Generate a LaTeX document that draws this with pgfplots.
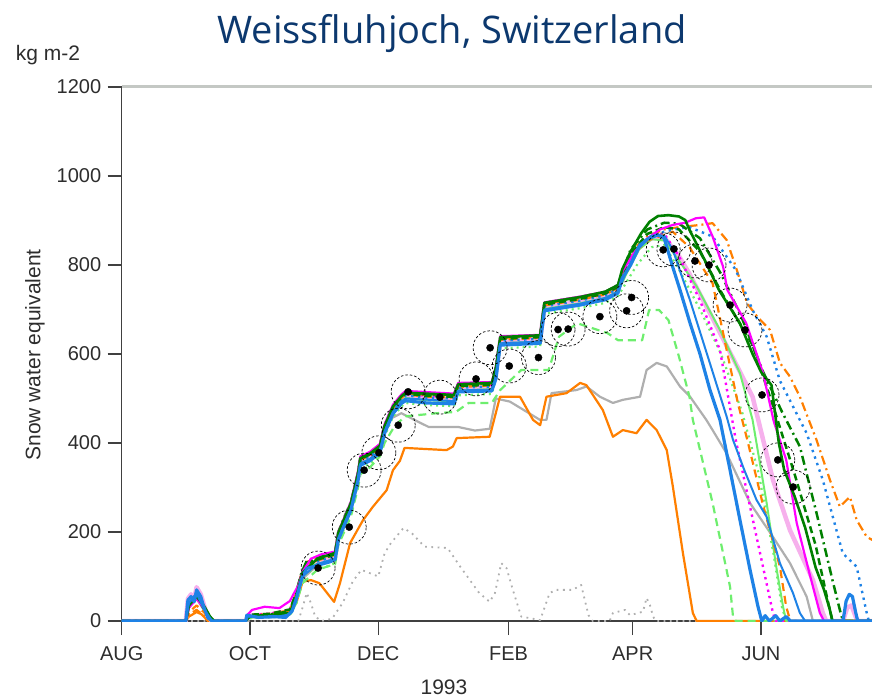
\documentclass[border=0pt]{standalone}
\usepackage{fontspec}
\setmainfont{Liberation Sans}
\newfontfamily\titlefont{Open Sans}
\usepackage{pgfplots}
\pgfplotsset{compat=1.18}
\definecolor{cblue}{RGB}{30,130,230}
\definecolor{cgreen}{RGB}{0,128,0}
\definecolor{cmag}{RGB}{255,0,255}
\definecolor{corange}{RGB}{255,127,0}
\definecolor{cgray}{RGB}{175,175,175}
\definecolor{clgreen}{RGB}{110,238,110}
\definecolor{cpink}{RGB}{246,176,236}
\definecolor{axgray}{RGB}{64,64,64}
\definecolor{topgray}{RGB}{196,200,196}
\definecolor{txtgray}{RGB}{45,45,45}
\definecolor{titleblue}{RGB}{12,56,110}
\begin{document}
\begin{tikzpicture}[x=1pt,y=1pt]
\begin{axis}[at={(0,0)}, anchor=south west,
  width=750.3pt, height=534pt, scale only axis,
  xmin=0, xmax=356.8, ymin=0, ymax=1200,
  axis lines=left, axis line style={-, draw=axgray, line width=1.5pt},
  tick align=outside, major tick length=14pt,
  tick style={draw=axgray, line width=1.5pt},
  xtick={0,61,122,184,243,304}, xticklabels={AUG,OCT,DEC,FEB,APR,JUN},
  ytick={0,200,...,1200},
  tick label style={font=\fontsize{20}{24}\selectfont, text=txtgray},
  xticklabel style={yshift=-8pt},
  yticklabel style={xshift=-3pt},
  /pgf/number format/assume math mode=true,
  /pgf/number format/1000 sep={},
  every axis plot/.append style={line join=round},
  clip=true]

% gray dotted
\addplot[cgray, line width=1.8pt, dash pattern=on 1.8pt off 4.5pt] coordinates {
(0,0)(84,0)(86,30)(88,63)(90,40)(92,10)(95,0)(100,5)(105,40)(110,90)(114,115)(122,100)(125,152)(128,175)(134,209)(138,197)(144,167)(155,164)(161,122)(170,63)(175,43)(177.5,63)(180.5,130)(183,119)(186,70)(190,10)(199,2)(203.5,63)(206.7,70)(214.5,70)(218.5,81)(221,32)(222,13)(224,0)(232,0)(233.6,18)(239.4,25)(241.7,13)(247.9,21)(249.6,52)(251.2,36)(252.7,10)(254,0)(357,0)};

% gray solid
\addplot[cgray, line width=2.2pt] coordinates {
(0,0)(30.5,0)(32,30)(35.6,50)(39,25)(43,0)(59,0)(60,8)(72,10)(80,15)(83,45)(86,95)(93,125)(101.5,138)(103,182)(109,249)(112.4,316)(113.5,350)(118,360)(122.8,378)(125,420)(128,455)(133,467)(140,450)(146,436)(160,436)(168,428)(175,432)(177.9,500)(184.6,493)(198.9,452)(202,452)(204.4,512)(216.3,519)(221,527)(227.4,504)(233.6,490)(238.3,497)(246.5,504)(249.6,564)(254.4,580)(259.2,572)(265.5,527)(270.3,504)(278,452)(281,429)(287.6,377)(298.8,265)(309.7,189)(317.8,130)(325.7,55)(328.7,0)(357,0)};

% orange solid (low)
\addplot[corange, line width=2.2pt] coordinates {
(0,0)(30.5,0)(32,10)(35.6,20)(38,15)(41,0)(59,0)(60,8)(70,15)(80,20)(83,40)(86,88)(90,92)(94,85)(101,43)(103.8,85)(108.6,175)(114.8,227)(119.5,257)(126,294)(129,339)(132.3,360)(134.5,389)(154.5,384)(157.5,392)(159.3,411)(175,414)(179.9,504)(189.4,504)(195.6,452)(199,440)(202,504)(211.5,512)(218,535)(221,530)(228.8,474)(233.6,414)(238.3,429)(244.8,422)(249.6,452)(254.4,429)(259.2,384)(262.1,302)(266.9,152)(271.6,18)(273.4,0)(357,0)};

% light green dashed
\addplot[clgreen, line width=2.2pt, dash pattern=on 8pt off 5pt] coordinates {
(0,0)(30.5,0)(32,35)(35.6,55)(39,28)(43,0)(59,0)(60,8)(72,10)(80,15)(83,40)(86,85)(93,115)(101.5,128)(103,170)(109,235)(112.4,300)(113.5,330)(118,345)(122.8,370)(125,400)(130,440)(135,460)(150,467)(159,470)(165,490)(176,490)(180,519)(190,564)(203,564)(208,639)(216.7,669)(231,647)(236,631)(247.5,631)(250.8,699)(255.5,699)(260,676)(265,594)(270,504)(271.6,452)(281,265)(289.3,77)(290.7,10)(292,0)(357,0)};

% pink thick
\addplot[cpink, line width=4.5pt] coordinates {
(0,0)(30.5,0)(31.5,50)(33,60)(34.5,50)(35.6,76)(37.6,60)(39,38)(41,10)(43,0)(59,0)(60,12)(70,14)(80,20)(83,55)(85.6,100)(88,125)(93,132)(99,140)(101.5,145)(103,190)(106,225)(109,257)(112.4,324)(113.5,358)(118,368)(122.8,386)(125,430)(129,474)(133,497)(135,505)(145,500)(158,498)(160,522)(176,525)(178,560)(180,628)(199,632)(201,705)(218,718)(230,730)(236,745)(240,790)(246,840)(252,860)(258,862)(265,820)(270,780)(281,680)(294,560)(300,504)(309.7,317)(317.8,204)(328.7,92)(333.4,18)(335,0)(343,0)(345,30)(347,35)(349,10)(350,0)(357,0)};

% light green solid
\addplot[clgreen, line width=2pt] coordinates {
(0,0)(30.5,0)(32,40)(35.6,60)(39,30)(43,0)(59,0)(60,8)(70,10)(80,16)(83,50)(85.6,96)(88,121)(93,128)(99,136)(101.5,141)(103,186)(106,221)(109,253)(112.4,320)(113.5,354)(118,364)(122.8,382)(125,426)(129,470)(133,493)(135,501)(145,496)(158,494)(160,518)(176,521)(178,556)(180,624)(199,628)(201,701)(218,714)(230,726)(236,741)(240,780)(246,835)(252,858)(258,855)(265,810)(270.3,774)(273.5,751)(284.5,654)(294,557)(300,452)(306.7,265)(311.5,115)(314.5,32)(316,0)(357,0)};

% light green dotted
\addplot[clgreen, line width=2.2pt, dash pattern=on 2pt off 4pt] coordinates {
(0,0)(30.5,0)(32,38)(35.6,58)(39,30)(43,0)(59,0)(60,6)(70,8)(80,12)(83,40)(85.6,85)(88,110)(93,117)(99,125)(101.5,130)(103,175)(106,210)(109,242)(112.4,309)(113.5,343)(118,353)(122.8,371)(125,415)(129,459)(133,482)(135,490)(145,485)(158,483)(160,507)(176,510)(178,545)(180,613)(199,617)(201,690)(218,703)(230,715)(236,730)(245,800)(252,840)(258,845)(265,790)(275,700)(285,600)(295,470)(303,330)(310,150)(314,30)(316,0)(357,0)};

% magenta dotted
\addplot[cmag, line width=2.4pt, dash pattern=on 2.4pt off 4pt] coordinates {
(0,0)(30.5,0)(32,35)(35.6,55)(39,28)(43,0)(59,0)(60,14)(70,16)(80,26)(83,61)(85.6,106)(88,131)(93,138)(99,146)(101.5,151)(103,196)(106,231)(109,263)(112.4,330)(113.5,364)(118,374)(122.8,392)(125,436)(129,480)(133,503)(135,511)(145,506)(158,504)(160,528)(176,531)(178,566)(180,634)(199,638)(201,711)(218,724)(230,736)(236,751)(242,820)(250,860)(258,870)(265,820)(275,720)(284.5,609)(292,407)(301.9,189)(309.7,18)(311,0)(357,0)};

% orange dashed
\addplot[corange, line width=2.2pt, dash pattern=on 8pt off 5pt] coordinates {
(0,0)(30.5,0)(32,20)(35.6,35)(39,20)(43,0)(59,0)(60,10)(70,14)(80,22)(83,59)(85.6,104)(88,129)(93,136)(99,144)(101.5,149)(103,194)(106,229)(109,261)(112.4,328)(113.5,362)(118,372)(122.8,390)(125,434)(129,478)(133,501)(135,509)(145,504)(158,502)(160,526)(176,529)(178,564)(180,632)(199,636)(201,709)(218,722)(230,734)(236,749)(242,820)(250,855)(258,868)(262,875)(270,840)(281,759)(293,490)(297.5,407)(305,260)(313,122)(316,32)(318,0)(357,0)};

% orange dash-dot
\addplot[corange, line width=2.2pt, dash pattern=on 9pt off 4pt on 2pt off 4pt] coordinates {
(0,0)(30.5,0)(32,15)(35.6,25)(39,12)(43,0)(59,0)(60,12)(70,16)(80,24)(83,63)(85.6,108)(88,133)(93,140)(99,148)(101.5,153)(103,198)(106,233)(109,265)(112.4,332)(113.5,366)(118,376)(122.8,394)(125,438)(129,482)(133,505)(135,513)(145,508)(158,506)(160,530)(176,533)(178,568)(180,636)(199,640)(201,713)(218,726)(230,738)(236,753)(242,830)(250,865)(258,880)(265,885)(275,890)(281,894)(287.7,856)(292.5,789)(297.4,714)(302.2,684)(308.3,654)(313,580)(317.8,549)(322.5,504)(327.3,445)(330.4,407)(336.8,317)(341.5,257)(346.3,279)(349.5,227)(354.3,189)(357,182)};

% blue dotted
\addplot[cblue, line width=2.4pt, dash pattern=on 2.4pt off 4.5pt] coordinates {
(0,0)(30.5,0)(32,40)(35.6,62)(39,30)(43,0)(59,0)(60,10)(70,12)(80,18)(83,57)(85.6,102)(88,127)(93,134)(99,142)(101.5,147)(103,192)(106,227)(109,259)(112.4,326)(113.5,360)(118,370)(122.8,388)(125,432)(129,476)(133,499)(135,507)(145,502)(158,500)(160,524)(176,527)(178,562)(180,630)(199,634)(201,707)(218,720)(230,732)(236,747)(242,820)(250,860)(258,875)(265,882)(270,885)(281,864)(292,789)(300,699)(306.7,639)(313,540)(325.7,422)(333.4,317)(339.9,204)(342.9,152)(349.5,122)(354.3,18)(355.3,0)(357,0)};

% dark green dashed
\addplot[cgreen, line width=2.5pt, dash pattern=on 7pt off 4pt] coordinates {
(0,0)(30.5,0)(32,35)(35.6,55)(39,28)(43,0)(59,0)(60,14)(70,16)(80,26)(83,61)(85.6,106)(88,131)(93,138)(99,146)(101.5,151)(103,196)(106,231)(109,263)(112.4,330)(113.5,364)(118,374)(122.8,392)(125,436)(129,480)(133,503)(135,511)(145,506)(158,504)(160,528)(176,531)(178,566)(180,634)(199,638)(201,711)(218,724)(230,736)(236,751)(242,825)(250,870)(258,885)(265,880)(275,830)(285,740)(295,660)(300,620)(310,480)(320,330)(330,170)(336,40)(338,0)(357,0)};

% dark green dash-dot
\addplot[cgreen, line width=2.5pt, dash pattern=on 9pt off 4pt on 2pt off 4pt] coordinates {
(0,0)(30.5,0)(32,35)(35.6,58)(39,35)(42,8)(44,0)(59,0)(60,10)(70,14)(80,22)(83,65)(85.6,110)(88,135)(93,142)(99,150)(101.5,155)(103,200)(106,235)(109,267)(112.4,334)(113.5,368)(118,378)(122.8,396)(125,440)(129,484)(133,507)(135,515)(145,510)(158,508)(160,532)(176,535)(178,570)(180,638)(199,642)(201,715)(218,728)(230,740)(236,755)(242,835)(250,880)(258,895)(265,893)(275,860)(285,780)(295,680)(305,560)(314,470)(322.5,392)(330.4,243)(338,92)(341.5,25)(343,0)(357,0)};

% magenta solid
\addplot[cmag, line width=2.2pt] coordinates {
(0,0)(30.5,0)(32,30)(35.6,50)(39,30)(42,5)(44,0)(59,0)(60,15)(62,25)(68,32)(75,29)(80,45)(82,63)(84,80)(86,110)(90,140)(95,150)(101.5,156)(103,200)(109,268)(112.4,336)(113.5,370)(118,380)(122.8,398)(125,442)(129,486)(133,509)(135,517)(158,511)(160,535)(176,537)(178,572)(180,640)(199,643)(201,716)(218,729)(230,740)(236,755)(238,785)(244,830)(250,860)(256,880)(262,890)(268,895)(273,905)(277,907)(281,864)(286,796)(288,744)(297,669)(305,557)(310,450)(316,362)(321,220)(327,108)(332,18)(334,0)(357,0)};

% dark green solid
\addplot[cgreen, line width=2.6pt] coordinates {
(0,0)(30.5,0)(32,35)(35.6,55)(39,35)(42,10)(44,0)(59,0)(61,10)(72,14)(80,18)(83,55)(86,108)(93,140)(101.5,153)(103,198)(109,265)(112.4,332)(113.5,366)(118,376)(122.8,394)(125,438)(129,482)(133,505)(135,513)(158,508)(160,532)(176,535)(178,570)(180,638)(199,642)(201,715)(218,728)(230,740)(236,755)(238,790)(242,830)(247,871)(251,897)(255,910)(260,912)(265,909)(268,901)(270,879)(278,804)(284,744)(294,669)(300,600)(304,560)(309,530)(312.5,400)(315,340)(320,280)(325,210)(330,120)(334,70)(336.5,30)(338,0)(357,0)};

% blue thin
\addplot[cblue, line width=2pt] coordinates {
(0,0)(30.5,0)(32,40)(35.6,62)(39,28)(43,0)(59,0)(60,10)(72,8)(80,15)(83,45)(86,100)(93,128)(101.5,140)(103,186)(109,252)(112.4,320)(113.5,354)(118,364)(122.8,382)(125,426)(129,470)(133,493)(135,500)(158,494)(160,518)(176,520)(178,552)(180,624)(199,628)(201,700)(218,713)(230,726)(236,740)(240,785)(246,845)(252,866)(258,866)(262,835)(270.3,720)(281,560)(287.7,459)(290.7,407)(296,340)(301.9,272)(306.7,234)(313,130)(319.2,63)(322.5,18)(325,0)(357,0)};

% blue main thick
\addplot[cblue, line width=3.2pt] coordinates {
(0,0)(30.5,0)(31.5,47)(33,55)(34.5,43)(35.6,70)(37.6,55)(39,32)(41,7)(43,0)(59,0)(59.5,13)(65,8)(72,10)(78,8)(81,22)(83,50)(85.6,95)(88,118)(93,125)(99,133)(101.5,138)(103,182)(106,217)(109,249)(112.4,316)(113.5,350)(118,360)(122.8,378)(125,422)(129,466)(133,489)(135,495)(145,490)(158,488)(160,515)(176,517)(178,545)(180,620)(199,624)(201,697)(218,710)(230,722)(236,737)(238,770)(242,800)(246,840)(250,858)(255,868)(258,860)(262,796)(265.5,744)(270.3,669)(275,600)(279.7,520)(284.5,452)(289.3,339)(294,227)(298.8,115)(302.6,32)(304.4,0)(306,12)(308,0)(311,12)(313,0)(316,10)(318,0)(343,0)(344.5,45)(346,60)(347.5,55)(349,20)(350,0)(357,0)};

% observations: circles and dots
\addplot[only marks, mark=o, mark size=17pt, mark options={black, line width=0.7pt, dash pattern=on 2.5pt off 2pt}] coordinates {
(93.4,119)(108.2,211)(115.3,339)(122.3,378)(131.5,440)(136.2,515)(151.3,503)(168.5,544)(175.2,614)(184.3,573)(198.2,592)(207.5,655)(212.3,656)(227.4,684)(240.1,697)(242.5,727)(257.5,834)(262.6,836)(272.6,809)(279.3,800)(289.3,710)(296.4,654)(304.5,508)(312,362)(319.3,301)};
\addplot[only marks, mark=*, mark size=3.6pt, mark options={black}] coordinates {
(93.4,119)(108.2,211)(115.3,339)(122.3,378)(131.5,440)(136.2,515)(151.3,503)(168.5,544)(175.2,614)(184.3,573)(198.2,592)(207.5,655)(212.3,656)(227.4,684)(240.1,697)(242.5,727)(257.5,834)(262.6,836)(272.6,809)(279.3,800)(289.3,710)(296.4,654)(304.5,508)(312,362)(319.3,301)};
\end{axis}
\draw[topgray, line width=3pt] (0,534) -- (750.3,534);
\node[font=\titlefont\fontsize{38}{44}\selectfont, text=titleblue] at (330.3,587) {Weissfluhjoch, Switzerland};
\node[font=\fontsize{21}{24}\selectfont, text=txtgray] at (-73.7,566) {kg m-2};
\node[font=\fontsize{21}{24}\selectfont, text=txtgray, rotate=90] at (-86.7,266) {Snow water equivalent};
\node[font=\fontsize{21}{24}\selectfont, text=txtgray] at (322.3,-66) {1993};
\pgfresetboundingbox
\useasboundingbox (-121.7,-78) rectangle (750.3,621);
\end{tikzpicture}
\end{document}
